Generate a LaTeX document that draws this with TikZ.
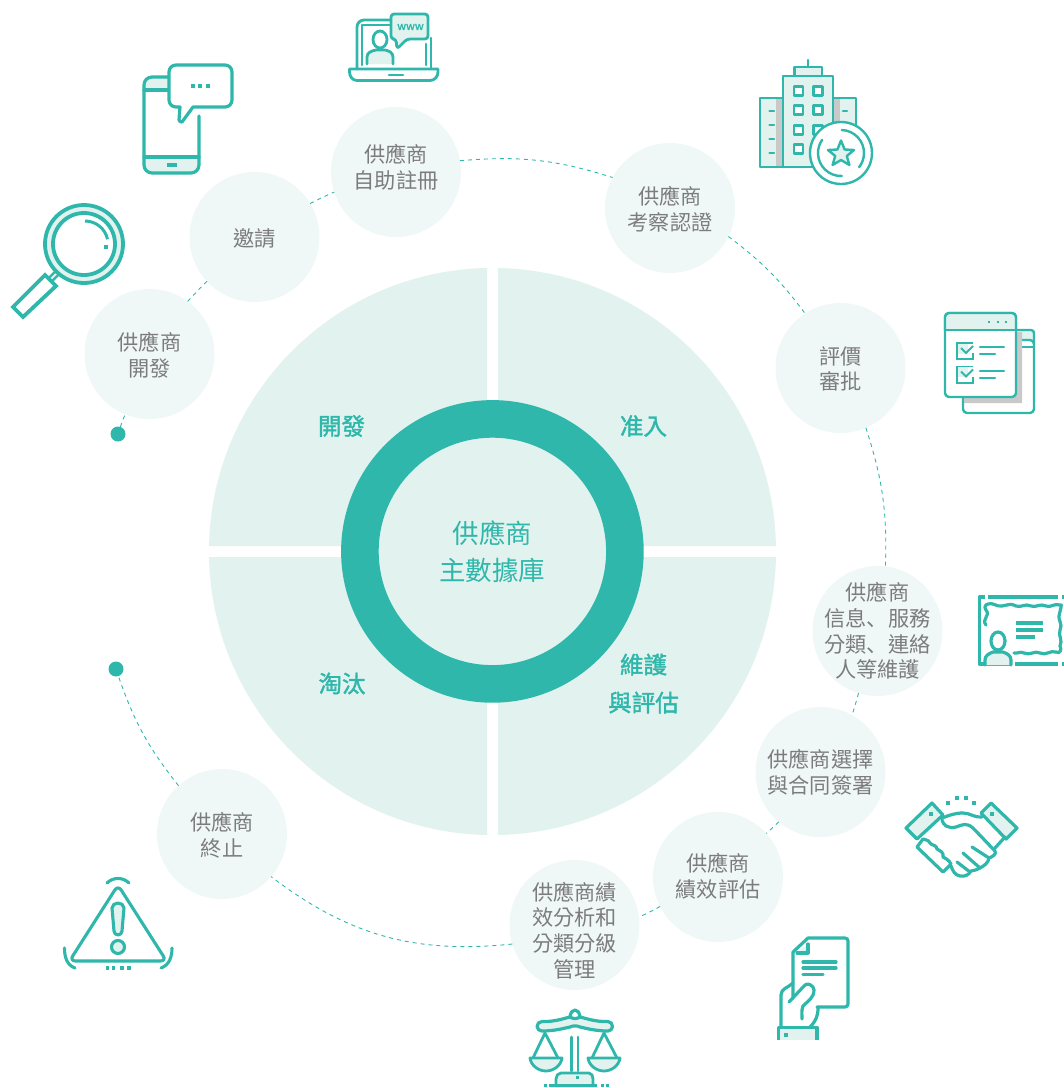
\documentclass[tikz,border=0pt]{standalone}
\usepackage{fontspec}
\setmainfont{Noto Sans CJK TC}
\newfontfamily\scfont{Noto Sans CJK SC}
\newfontfamily\qfont[FakeBold=1.6]{Noto Sans CJK TC}
\usetikzlibrary{shapes.geometric}
\definecolor{teal1}{HTML}{2EB7AA}
\definecolor{quad1}{HTML}{E2F2EE}
\definecolor{soft1}{HTML}{EFF8F6}
\definecolor{gray1}{HTML}{7C7C7C}
\definecolor{shade1}{HTML}{C9C9C9}
\tikzset{
 x=1pt,y=1pt,
 quadshape/.style={fill=quad1,draw=none},
 stage/.style={circle,fill=soft1,draw=none,minimum size=130,inner sep=0,outer sep=0},
 stagetext/.style={align=center,text=gray1,inner sep=0,font=\fontsize{21.2}{25.6}\selectfont},
 conn/.style={draw=teal1,line width=0.9,dash pattern=on 4 off 4},
 enddot/.style={circle,fill=teal1,draw=none,minimum size=15,inner sep=0,outer sep=0},
 qlabel/.style={text=teal1,align=center,inner sep=0,font=\fontsize{23.5}{38}\selectfont\qfont},
 core/.style={circle,draw=teal1,line width=37.6,fill=quad1,minimum size=265,inner sep=0,outer sep=0,align=center,text=teal1,font=\fontsize{26.5}{37}\selectfont},
 ic/.style={draw=teal1,line width=3.2,line join=round,line cap=round},
 icthin/.style={draw=teal1,line width=2.4,line join=round,line cap=round},
 lt/.style={fill=quad1},
 wt/.style={fill=white},
 sq/.style={fill=teal1,draw=none},
}
\newcommand{\dotsq}[3]{\fill[sq] (#1-#3/2,#2-#3/2) rectangle (#1+#3/2,#2+#3/2);}
\newcommand{\stg}[4]{\node[stage,label={[stagetext,yshift=#3]center:{#4}}] (#1) at #2 {};}
\newcommand{\dun}{{\scfont 、}}
\begin{document}
\begin{tikzpicture}
\useasboundingbox (0,0) rectangle (1064,-1088);
% quadrants
\path[quadshape] (487,-546) -- (209.05,-546) arc (178.9:91.1:283.5) -- cycle;
\path[quadshape] (498,-546) -- (775.95,-546) arc (1.1:88.9:283.5) -- cycle;
\path[quadshape] (487,-557) -- (209.05,-557) arc (181.1:268.9:283.5) -- cycle;
\path[quadshape] (498,-557) -- (775.95,-557) arc (-1.1:-88.9:283.5) -- cycle;
% centre
\node[core] (hub) at (492.4,-551.4) {供應商\\主數據庫};
\node[qlabel] (q1) at (341.5,-426) {開發};
\node[qlabel] (q2) at (643.5,-426) {准入};
\node[qlabel] (q3) at (342,-683.5) {淘汰};
\node[qlabel] (q4) at (643.5,-683.5) {維護\\與評估};
% stages
\stg{s1}{(149.5,-354)}{-1}{供應商\\開發}
\stg{s2}{(254.5,-237)}{-2}{邀請}
\stg{s3}{(396,-172)}{4.5}{供應商\\自助註冊}
\stg{s4}{(670,-208)}{-1}{供應商\\考察認證}
\stg{s5}{(840.5,-368)}{-1}{評價\\審批}
\stg{s6}{(877.5,-631)}{0}{供應商\\信息\dun 服務\\分類\dun 連絡\\人等維護}
\stg{s7}{(820.5,-772)}{0}{供應商選擇\\與合同簽署}
\stg{s8}{(718,-877)}{1}{供應商\\績效評估}
\stg{s9}{(574.5,-925)}{-5.5}{供應商績\\效分析和\\分類分級\\管理}
\stg{s10}{(222,-834)}{-1}{供應商\\終止}
\node[enddot] (d1) at (118,-434) {};
\node[enddot] (d2) at (116,-669) {};
% connectors
\draw[conn] (d1) to[bend left=1.5] (s1.248);
\draw[conn] (s1.54) to[bend left=1.9] (s2.223);
\draw[conn] (s2.31) to[bend left=1.8] (s3.198);
\draw[conn] (s3.10.6) to[bend left=11.2] (s4.152.7);
\draw[conn] (s4.-26.6) to[bend left=8] (s5.123);
\draw[conn] (s5.-67) to[bend left=9.9] (s6.83);
\draw[conn] (s6.253) to[bend left=1.4] (s7.61.6);
\draw[conn] (s7.230.6) to[bend left=1] (s8.42);
\draw[conn] (s8.207) to[bend left=1.7] (s9.7.8);
\draw[conn] (s9.197) to[bend left=21.5] (s10.-41.3);
\draw[conn] (s10.132.6) to[bend left=9.6] (d2);

% --- laptop
\draw[ic,line width=2.8] (357,-69) -- (357,-27) to[out=90,in=180] (364,-20) -- (390,-20);
\draw[ic,line width=2.8] (431,-38) -- (431,-69);
\draw[ic,line width=2.8] (362,-65) -- (362,-25) -- (390,-25);
\draw[ic,line width=2.8] (426,-44) -- (426,-65);
\draw[ic,line width=2.8,wt] (349.5,-69) -- (438,-69) -- (438,-72) to[out=-90,in=0] (430,-80.5) -- (357,-80.5) to[out=180,in=-90] (349.5,-72) -- cycle;
\draw[ic,line width=2.2] (389,-75) -- (403,-75);
\draw[ic,line width=2.8,lt] (367,-64) -- (367,-57) to[out=90,in=190] (376,-50) -- (385,-50) to[out=-10,in=90] (393,-57) -- (393,-64);
\draw[ic,line width=2.8,wt] (380,-39.5) ellipse (7 and 8.5);
\draw[ic,line width=2.8,lt,rounded corners=3] (391,-14) -- (428,-14) -- (428,-39) -- (407,-39) -- (397,-49) -- (396,-39) -- (391,-39) -- cycle;
\node[text=teal1,inner sep=0,font=\fontsize{11}{11}\selectfont\qfont] (www) at (410.5,-27) {www};

% --- phone
\fill[lt,rounded corners=8] (144,-77) rectangle (199,-110);
\fill[white] (144,-90) rectangle (199,-112);
\fill[lt,rounded corners=8] (144,-145) rectangle (199,-173);
\fill[white] (144,-145) rectangle (199,-157);
\draw[ic] (170,-77) -- (152,-77) to[out=180,in=90] (144,-85) -- (144,-165) to[out=-90,in=180] (152,-173) -- (191,-173) to[out=0,in=-90] (199,-165) -- (199,-116);
\draw[ic] (144,-90) -- (169,-90);
\draw[ic] (144,-157) -- (199,-157);
\fill[sq] (167,-163) rectangle (177,-167);
\draw[ic,wt] (176,-65) -- (225,-65) to[out=0,in=90] (232,-72) -- (232,-100) to[out=-90,in=0] (225,-107) -- (193,-107) -- (182,-122) to[out=190,in=-70] (179,-120) -- (180,-107) -- (176,-107) to[out=180,in=-90] (169,-100) -- (169,-72) to[out=90,in=180] cycle;
\dotsq{193}{-86}{4}\dotsq{199.5}{-86}{4}\dotsq{208}{-86}{4}

% --- magnifier
\draw[line width=7,teal1] (58,-272) -- (48,-282);
\draw[line width=2,quad1] (58,-272) -- (49,-281);
\draw[ic,line width=3.8,lt] (84,-244) circle (39);
\draw[ic,line width=3.8,wt] (84,-244) circle (31);
\draw[ic,line width=3,line cap=butt] (85,-221) arc (90:12:23);
\dotsq{106}{-246.5}{4}
\draw[ic,line width=3.8,wt,line cap=butt,miter limit=10,line join=miter] (45,-275) -- (56,-286) -- (23,-317) -- (13,-307) -- cycle;

% --- building
\draw[icthin,lt] (760,-98) rectangle (783,-167);
\fill[shade1] (775.5,-99) rectangle (782,-166);
\draw[icthin,lt] (833,-98) rectangle (856,-167);
\fill[shade1] (834,-99) rectangle (840,-166);
\foreach \yy in {-111,-125,-139,-153} {\draw[icthin] (769.5,\yy) -- (774,\yy);}
\draw[icthin] (843,-111) -- (847,-111);
\draw[icthin,lt] (794.5,-67) rectangle (822,-76);
\draw[icthin] (808,-60) -- (808,-67);
\draw[icthin,lt] (783,-76) rectangle (833,-167);
\foreach \yy in {-91,-110,-130,-149} {
 \draw[icthin,wt] (794,\yy+4.5) rectangle (803,\yy-4.5);
 \draw[icthin,wt] (813.5,\yy+4.5) rectangle (822.5,\yy-4.5);
}
\draw[icthin,wt] (841,-153) circle (31);
\draw[icthin] (841,-153) ++(88:23) arc (88:-38:23);
\draw[icthin] (841,-153) ++(-88:23) arc (-88:-215:23);
\draw[icthin,lt] (841,-140.5) -- (844.6,-149.5) -- (854,-150) -- (846.8,-156) -- (849.4,-165) -- (841,-160) -- (832.6,-165) -- (835.2,-156) -- (828,-150) -- (837.4,-149.5) -- cycle;

% --- checklist windows
\draw[icthin,lt,rounded corners=3] (1010,-330) -- (1034,-330) -- (1034,-347) -- (1010,-347) -- cycle;
\draw[icthin,wt,rounded corners=4] (963,-380) -- (963,-413) -- (1034,-413) -- (1034,-340) -- (1016,-340);
\draw[icthin] (1016,-347) -- (1034,-347);
\fill[shade1] (1016,-332) -- (1022,-332) -- (1022,-403) -- (964,-403) -- (964,-397) -- (1016,-397) -- cycle;
\draw[icthin,wt,rounded corners=4] (945,-313) rectangle (1016,-397);
\fill[lt,rounded corners=4] (945,-330) -- (945,-313) -- (1016,-313) -- (1016,-330) -- cycle;
\draw[icthin,rounded corners=4] (945,-330) -- (945,-313) -- (1016,-313) -- (1016,-330);
\draw[icthin] (945,-330) -- (1016,-330);
\draw[teal1,line width=1.6,dash pattern=on 2.2 off 6.4] (988,-322) -- (1008,-322);
\fill[lt] (957,-343) rectangle (968,-354);
\fill[lt] (957,-366.5) rectangle (968,-377);
\draw[teal1,line width=1.9] (973,-343) -- (957,-343) -- (957,-359) -- (973,-359) -- (973,-353);
\draw[teal1,line width=1.9] (973,-366.5) -- (957,-366.5) -- (957,-383) -- (973,-383) -- (973,-377);
\draw[teal1,line width=1.9] (961,-348) -- (966,-353) -- (973,-346);
\draw[teal1,line width=1.9] (961,-371.5) -- (966,-376.5) -- (973,-369.5);
\draw[icthin] (980,-347) -- (1004,-347);
\draw[icthin] (980,-354) -- (995,-354);
\draw[icthin] (980,-371) -- (1004,-371);
\draw[icthin] (980,-378) -- (995,-378);

% --- certificate
\draw[ic,line cap=butt] (985,-597) -- (979.5,-597) -- (979.5,-664) -- (1012,-664);
\draw[ic,line cap=butt] (988,-597) -- (1058,-597);
\draw[ic,line cap=butt] (1062,-597) -- (1064,-597);
\draw[ic,line cap=butt] (1015,-664) -- (1058,-664);
\draw[ic,line cap=butt] (1062,-664) -- (1064,-664);
\draw[ic] (986,-625) .. controls (981,-619) and (991,-616) .. (986,-610) .. controls (984,-607) and (985,-605) .. (988,-604)
  .. controls (993,-602) and (996,-607) .. (1002,-606) .. controls (1008,-605) and (1011,-603) .. (1016,-606) .. controls (1021,-608) and (1025,-603) .. (1031,-606) .. controls (1036,-608) and (1040,-603) .. (1046,-606) .. controls (1051,-608) and (1054,-603) .. (1060,-605) .. controls (1063,-603) and (1060,-610) .. (1059,-616) .. controls (1058,-620) and (1063,-624) .. (1060,-630) .. controls (1058,-636) and (1063,-640) .. (1060,-646) .. controls (1062,-650) and (1060,-654) .. (1056,-652) .. controls (1050,-650) and (1046,-656) .. (1040,-653) .. controls (1035,-650) and (1030,-656) .. (1024,-653) .. controls (1020,-651) and (1017,-654) .. (1014,-653);
\draw[ic,lt] (985,-665) -- (985,-660) to[out=90,in=200] (993,-652) -- (1003,-652) to[out=-20,in=90] (1011,-660) -- (1011,-665);
\draw[ic,wt] (998,-641) ellipse (7 and 9);
\draw[teal1,line width=3.8] (1016,-623) -- (1043,-623);
\draw[teal1,line width=3.8] (1016,-630) -- (1043,-630);
\draw[teal1,line width=3.8] (1016,-637) -- (1035,-637);

% --- handshake
\draw[ic,lt] (906,-828) -- (932,-803) -- (943,-815) -- (917,-839) -- cycle;
\draw[ic,lt] (981,-813) -- (991,-803) -- (1017,-828) -- (1006,-839) -- cycle;
\dotsq{931}{-814}{4}\dotsq{992}{-814}{4}
\foreach \xx/\yy in {948/-803,957/-798,966/-798,974/-803} {\dotsq{\xx}{\yy}{3.5}}
\draw[ic] (942,-818) .. controls (950,-815) and (955,-813) .. (963,-813) .. controls (970,-813) and (975,-818) .. (982,-817);
\draw[ic] (942,-820) .. controls (943,-825) and (948,-829) .. (956,-827) .. controls (962,-825) and (966,-822) .. (973,-828) -- (995,-851);
\draw[ic] (972,-847) -- (989,-858);
\draw[ic] (963,-853) -- (980,-868);
\draw[ic] (957,-862) -- (970,-872);
\draw[ic] (995,-848) -- (1005,-837);
\draw[ic] (995,-851) to[out=-60,in=20] (989,-858) to[out=-100,in=30] (980,-868) to[out=-140,in=20] (971,-871) to[out=-120,in=-10] (960,-876) to[out=170,in=-70] (951,-866);
\draw[ic] (923,-839) -- (917,-847) -- (943,-872) -- (951,-864) .. controls (949,-860) and (945,-858) .. (943,-857) .. controls (944,-852) and (940,-851) .. (937,-849) .. controls (937,-846) and (933,-845) .. (931,-844) .. controls (930,-841) and (927,-840) .. cycle;

% --- document & hand
\fill[lt] (780,-1029) rectangle (816,-1039.5);
\draw[ic,line cap=butt] (778.5,-1039.5) -- (778.5,-1027.5) -- (817,-1027.5) -- (817,-1039.5);
\dotsq{785.5}{-1035}{4}
\draw[ic] (793,-998) -- (793,-952) -- (808,-938) -- (845,-938) to[out=0,in=90] (848,-941) -- (848,-1004) to[out=-90,in=0] (845,-1007) -- (817,-1007);
\draw[ic,lt] (797,-953) -- (808,-953) -- (808,-944);
\draw[ic] (803,-962) -- (836,-962);
\draw[ic] (803,-968) -- (836,-968);
\draw[ic] (803,-974.5) -- (823,-974.5);
\draw[ic] (781,-1027) -- (781,-995) to[out=90,in=-135] (793,-983);
\draw[ic] (789,-1002) -- (805,-985) to[out=45,in=90] (814,-990) to[out=-90,in=45] (803,-1006) to[out=-110,in=90] (802,-1019);
\draw[ic] (818,-1008) to[out=-90,in=45] (810,-1027);

% --- scales
\draw[ic] (570,-1016) to[out=80,in=180] (575,-1010) to[out=0,in=100] (580,-1016);
\draw[ic,lt] (542,-1021.5) .. controls (555,-1022) and (565,-1018) .. (570,-1017) .. controls (573,-1019) and (577,-1019) .. (580,-1017) .. controls (585,-1018) and (595,-1022) .. (608,-1021.5) to[out=0,in=90] (612.5,-1026.5) to[out=-90,in=0] (608,-1031) .. controls (595,-1031) and (585,-1028) .. (580,-1027) .. controls (577,-1025.5) and (573,-1025.5) .. (570,-1027) .. controls (565,-1028) and (555,-1031) .. (542,-1031) to[out=180,in=-90] (537,-1026.5) to[out=90,in=180] cycle;
\draw[ic,line width=2.8] (571.5,-1037) -- (571.5,-1071);
\draw[ic,line width=2.8] (578,-1037) -- (578,-1071);
\draw[ic,line width=2.8] (545,-1033) -- (533,-1058);
\draw[ic,line width=2.8] (545,-1033) -- (558,-1058);
\draw[ic,line width=2.8] (604,-1033) -- (592,-1058);
\draw[ic,line width=2.8] (604,-1033) -- (617,-1058);
\draw[ic,line width=2.8,lt] (530,-1058) -- (562,-1058) .. controls (561,-1066) and (553,-1071) .. (546,-1071) .. controls (539,-1071) and (531,-1066) .. cycle;
\draw[ic,line width=2.8,lt] (588,-1058) -- (620,-1058) .. controls (619,-1066) and (611,-1071) .. (604,-1071) .. controls (597,-1071) and (589,-1066) .. cycle;
\draw[ic,line width=2.8,lt] (556,-1085) -- (556,-1079) to[out=90,in=180] (561,-1073) -- (589,-1073) to[out=0,in=90] (593,-1079) -- (593,-1085);
\dotsq{577}{-1077}{3}
\draw[teal1,line width=2.8] (549,-1085.5) -- (597,-1085.5);
\dotsq{545}{-1085.5}{3}\dotsq{602}{-1085.5}{3}\dotsq{607}{-1085.5}{3}

% --- warning
\draw[ic,rounded corners=6,line width=3.1] (118,-885) -- (166.5,-961) -- (69.5,-961) -- cycle;
\draw[ic,lt,line width=3.1] (112,-908) to[out=90,in=180] (118,-903) to[out=0,in=90] (124,-908) -- (122,-931) to[out=-90,in=0] (118,-935) to[out=180,in=-90] (114,-931) -- cycle;
\draw[ic,lt,line width=3.1] (118,-947) circle (6.5);
\draw[ic,line width=3.1] (107,-883) to[out=45,in=135] (129,-883);
\draw[ic,line width=3.1] (64.5,-948) to[out=-90,in=160] (75,-968);
\draw[ic,line width=3.1] (172,-948) to[out=-90,in=20] (161,-968);
\foreach \xx in {107.5,113.5,122,129} {\dotsq{\xx}{-968}{3.2}}
\end{tikzpicture}
\end{document}
